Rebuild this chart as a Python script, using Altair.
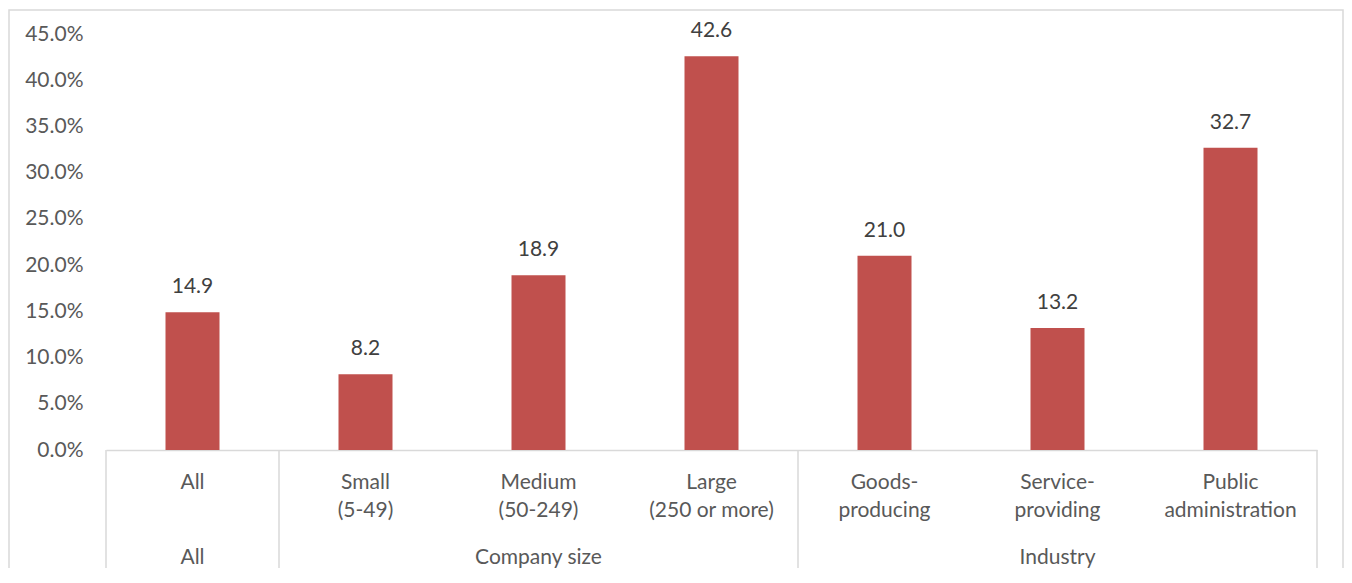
import altair as alt
import pandas as pd

categories = ["All", "Small\n(5-49)", "Medium\n(50-249)", "Large\n(250 or more)",
              "Goods-\nproducing", "Service-\nproviding", "Public\nadministration"]
values = [14.9, 8.2, 18.9, 42.6, 21.0, 13.2, 32.7]
groups = ["All", "Company size", "Industry"]
group_centers = ["All", "Medium\n(50-249)", "Service-\nproviding"]
group_starts = ["All", "Small\n(5-49)", "Goods-\nproducing"]
group_end = ["Public\nadministration"]
y_ticks = [0, 5, 10, 15, 20, 25, 30, 35, 40, 45]

df = pd.DataFrame({"cat": categories, "value": values})
gdf = pd.DataFrame({"cat": group_centers, "group": groups})
sdf = pd.DataFrame({"cat": group_starts})
edf = pd.DataFrame({"cat": group_end})
box = pd.DataFrame({"k": [0]})

FONT = "Lato"
FS = 21
W, H = 1211, 416

xscale = alt.Scale(domain=categories, paddingInner=0, paddingOuter=0)
yscale = alt.Scale(domain=[0, 45])

x_enc = alt.X("cat:N", scale=xscale, sort=categories, title=None,
              axis=alt.Axis(labelExpr="split(datum.label, '\\n')", labelAngle=0,
                            labelFont=FONT, labelFontSize=FS, labelColor="#595959",
                            labelLineHeight=28, labelPadding=21, ticks=False,
                            domainColor="#d9d9d9", domainWidth=1.5, grid=False,
                            labelLimit=300))

bars = alt.Chart(df).mark_bar(color="#C0504D", size=54).encode(
    x=x_enc,
    y=alt.Y("value:Q", scale=yscale, title=None,
            axis=alt.Axis(values=y_ticks, labelExpr="format(datum.value, '.1f') + '%'",
                          labelFont=FONT, labelFontSize=FS, labelColor="#595959",
                          domain=False, ticks=False, grid=False, labelPadding=23)),
)

labels = alt.Chart(df).mark_text(font=FONT, fontSize=FS, color="#404040",
                                 baseline="alphabetic", dy=-19).encode(
    x=alt.X("cat:N", scale=xscale, sort=categories),
    y=alt.Y("value:Q", scale=yscale),
    text=alt.Text("value:Q", format=".1f"),
)

group_text = alt.Chart(gdf).mark_text(font=FONT, fontSize=FS, color="#595959",
                                      baseline="alphabetic").encode(
    x=alt.X("cat:N", scale=xscale, sort=categories),
    y=alt.value(H + 114),
    text="group:N",
)

sep_start = alt.Chart(sdf).mark_rule(color="#d9d9d9", strokeWidth=1.5).encode(
    x=alt.X("cat:N", scale=xscale, sort=categories, bandPosition=0),
    y=alt.value(H),
    y2=alt.value(H + 122),
)

sep_end = alt.Chart(edf).mark_rule(color="#d9d9d9", strokeWidth=1.5).encode(
    x=alt.X("cat:N", scale=xscale, sort=categories, bandPosition=1),
    y=alt.value(H),
    y2=alt.value(H + 122),
)

border = alt.Chart(box).mark_rect(fill="white", fillOpacity=0, stroke="#d9d9d9",
                                  strokeWidth=1.5).encode(
    x=alt.value(-97), x2=alt.value(1237),
    y=alt.value(-24), y2=alt.value(H + 200),
)

chart = alt.layer(border, bars, labels, group_text, sep_start, sep_end).properties(
    width=W, height=H,
    autosize=alt.AutoSizeParams(type="none"),
    padding={"left": 98, "top": 26, "right": 27, "bottom": 118},
    background="white",
).configure_view(stroke=None)

chart.save("out.html", embed_options={"renderer": "svg", "actions": False})
